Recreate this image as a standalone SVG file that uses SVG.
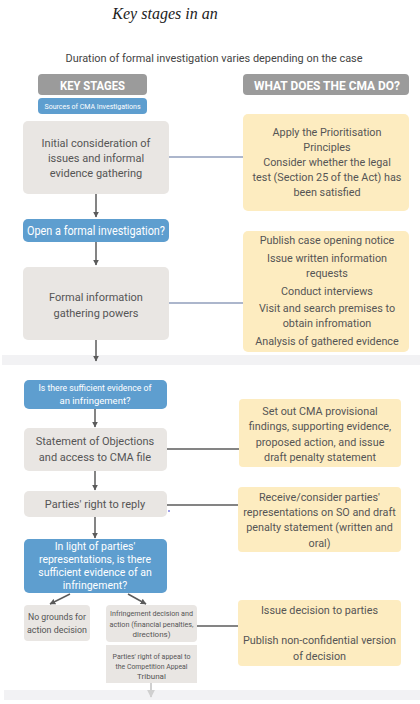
<svg xmlns="http://www.w3.org/2000/svg" width="420" height="704" viewBox="0 0 420 704">
<style>
text{font-family:Roboto,"Liberation Sans",sans-serif;text-anchor:middle}
.g{fill:#e9e6e3}
.y{fill:#fdecc0}
.b{fill:#5e9ecf}
.h{fill:#9b9b9b}
.t{fill:#555;font-size:11px}
.ty{fill:#555;font-size:10.8px}
.w{fill:#fff}
.s{fill:#555;font-size:8px}
.ln{stroke:#5b5b5b;stroke-width:1.5;fill:none}
.lb{stroke:#5a6e9a;stroke-width:1.2;fill:none}
.band{fill:#f2f2f4}
</style>
<defs>
<marker id="ah" viewBox="0 0 10 10" refX="9" refY="5" markerWidth="4" markerHeight="4" orient="auto"><path d="M0,0L10,5L0,10z" fill="#5b5b5b"/></marker>
<marker id="ahl" viewBox="0 0 10 10" refX="9" refY="5" markerWidth="4" markerHeight="4" orient="auto"><path d="M0,0L10,5L0,10z" fill="#d0d0d0"/></marker>
</defs>
<text x="165" y="19" style="font-family:'Liberation Serif',serif;font-style:italic;font-size:16px;fill:#222">Key stages in an</text>
<text x="214" y="62" style="fill:#444;font-size:11px" textLength="297" lengthAdjust="spacingAndGlyphs">Duration of formal investigation varies depending on the case</text>
<rect class="band" x="2" y="355" width="418" height="10"/>
<rect class="band" x="4" y="690" width="416" height="10"/>
<g id="connectors">
<path class="lb" d="M169,157H243"/>
<path class="lb" d="M169,303H243"/>
<path class="ln" d="M167,449H239"/>
<path class="ln" d="M167,505H238"/>
<path class="ln" d="M197,626H238"/>
<path class="ln" d="M96,194V217" marker-end="url(#ah)"/>
<path class="ln" d="M96,242V265" marker-end="url(#ah)"/>
<path class="ln" d="M96,340V361" marker-end="url(#ah)"/>
<path class="ln" d="M95,409V427" marker-end="url(#ah)"/>
<path class="ln" d="M95,471V490" marker-end="url(#ah)"/>
<path class="ln" d="M95,517V538" marker-end="url(#ah)"/>
<path class="ln" d="M70,594L50,604" stroke-width="1" marker-end="url(#ah)"/>
<path class="ln" d="M128,594L146,604" stroke-width="1" marker-end="url(#ah)"/>
<path d="M151,683V697" stroke="#d0d0d0" stroke-width="2" fill="none" marker-end="url(#ahl)"/>
<circle cx="169" cy="511" r="0.8" fill="#22c"/>
</g>
<g id="hdr-key"><rect class="h" x="38" y="74" width="109" height="21" rx="4"/><text x="92.5" y="89.5" class="w" style="font-size:13px;font-weight:bold" textLength="65" lengthAdjust="spacingAndGlyphs">KEY STAGES</text></g>
<g id="hdr-cma"><rect class="h" x="243" y="74" width="166" height="21" rx="4"/><text x="327" y="89.5" class="w" style="font-size:13px;font-weight:bold" textLength="146" lengthAdjust="spacingAndGlyphs">WHAT DOES THE CMA DO?</text></g>
<g id="sources"><rect class="b" x="38" y="98" width="109" height="16" rx="4"/><text x="92.5" y="109" class="w" style="font-size:8px" textLength="96" lengthAdjust="spacingAndGlyphs">Sources of CMA Investigations</text></g>
<g id="initial"><rect class="g" x="23" y="121" width="146" height="73" rx="5"/>
<text class="t" x="96"><tspan x="96" y="147">Initial consideration of</tspan><tspan x="96" y="162">issues and informal</tspan><tspan x="96" y="177">evidence gathering</tspan></text></g>
<g id="open"><rect class="b" x="23" y="219" width="146" height="23" rx="5"/><text x="96" y="235" class="w" style="font-size:12px" textLength="138" lengthAdjust="spacingAndGlyphs">Open a formal investigation?</text></g>
<g id="formal"><rect class="g" x="23" y="267" width="146" height="73" rx="5"/>
<text class="t"><tspan x="96" y="301">Formal information</tspan><tspan x="96" y="317">gathering powers</tspan></text></g>
<g id="sufficient"><rect class="b" x="24" y="380" width="143" height="29" rx="5"/>
<text class="w" style="font-size:9.5px"><tspan x="95" y="391" textLength="113" lengthAdjust="spacingAndGlyphs">Is there sufficient evidence of</tspan><tspan x="95" y="404">an infringement?</tspan></text></g>
<g id="so"><rect class="g" x="24" y="428" width="143" height="43" rx="5"/>
<text class="t"><tspan x="95" y="445">Statement of Objections</tspan><tspan x="95" y="461">and access to CMA file</tspan></text></g>
<g id="reply"><rect class="g" x="24" y="491" width="143" height="26" rx="5"/>
<text class="t" x="95" y="508">Parties' right to reply</text></g>
<g id="inlight"><rect class="b" x="24" y="539" width="143" height="54" rx="5"/>
<text class="w" style="font-size:10.5px"><tspan x="95" y="550">In light of parties'</tspan><tspan x="95" y="563">representations, is there</tspan><tspan x="95" y="576">sufficient evidence of an</tspan><tspan x="95" y="589">infringement?</tspan></text></g>
<g id="nogrounds"><rect class="g" x="24" y="605" width="66" height="36" rx="4"/>
<text class="t" style="font-size:9.5px"><tspan x="57" y="620" textLength="58" lengthAdjust="spacingAndGlyphs">No grounds for</tspan><tspan x="57" y="633" textLength="60" lengthAdjust="spacingAndGlyphs">action decision</tspan></text></g>
<g id="infringement"><rect class="g" x="106" y="605" width="91" height="37" rx="4"/>
<text class="s"><tspan x="151.5" y="616" textLength="83" lengthAdjust="spacingAndGlyphs">Infringement decision and</tspan><tspan x="151.5" y="627" textLength="84" lengthAdjust="spacingAndGlyphs">action (financial penalties,</tspan><tspan x="151.5" y="637">directions)</tspan></text></g>
<g id="appeal"><rect class="g" x="106" y="645" width="91" height="38"/>
<text class="s"><tspan x="151.5" y="659" textLength="78" lengthAdjust="spacingAndGlyphs">Parties' right of appeal to</tspan><tspan x="151.5" y="669" textLength="72" lengthAdjust="spacingAndGlyphs">the Competition Appeal</tspan><tspan x="151.5" y="679">Tribunal</tspan></text></g>
<g id="cma1"><rect class="y" x="243" y="114" width="166" height="97" rx="5"/>
<text class="ty"><tspan x="327" y="136">Apply the Prioritisation</tspan><tspan x="327" y="151">Principles</tspan><tspan x="327" y="166">Consider whether the legal</tspan><tspan x="327" y="181">test (Section 25 of the Act) has</tspan><tspan x="327" y="196">been satisfied</tspan></text></g>
<g id="cma2"><rect class="y" x="243" y="231" width="166" height="121" rx="5"/>
<text class="ty"><tspan x="327" y="244">Publish case opening notice</tspan><tspan x="327" y="262">Issue written information</tspan><tspan x="327" y="277">requests</tspan><tspan x="327" y="295">Conduct interviews</tspan><tspan x="327" y="312">Visit and search premises to</tspan><tspan x="327" y="327">obtain infromation</tspan><tspan x="327" y="345">Analysis of gathered evidence</tspan></text></g>
<g id="cma3"><rect class="y" x="239" y="399" width="162" height="68" rx="4"/>
<text class="ty"><tspan x="320" y="415">Set out CMA provisional</tspan><tspan x="320" y="430">findings, supporting evidence,</tspan><tspan x="320" y="446">proposed action, and issue</tspan><tspan x="320" y="461">draft penalty statement</tspan></text></g>
<g id="cma4"><rect class="y" x="238" y="487" width="163" height="65" rx="4"/>
<text class="ty"><tspan x="319.5" y="501">Receive/consider parties'</tspan><tspan x="319.5" y="516">representations on SO and draft</tspan><tspan x="319.5" y="531">penalty statement (written and</tspan><tspan x="319.5" y="547">oral)</tspan></text></g>
<g id="cma5"><rect class="y" x="238" y="600" width="163" height="66" rx="4"/>
<text class="ty"><tspan x="319.5" y="614">Issue decision to parties</tspan><tspan x="319.5" y="644">Publish non-confidential version</tspan><tspan x="319.5" y="660">of decision</tspan></text></g>
</svg>
